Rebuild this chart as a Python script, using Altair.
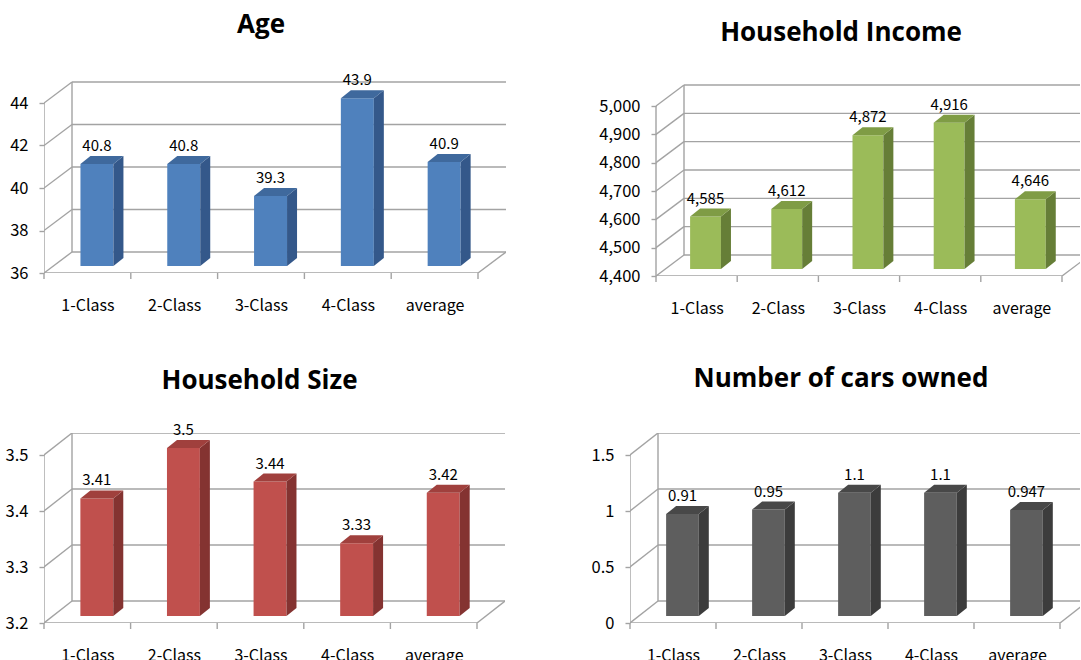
import json
import altair as alt
import pandas as pd

# ---------------- data ----------------
categories = ["1-Class", "2-Class", "3-Class", "4-Class", "average"]

age_values = [40.8, 40.8, 39.3, 43.9, 40.9]
income_values = [4585, 4612, 4872, 4916, 4646]
size_values = [3.41, 3.5, 3.44, 3.33, 3.42]
cars_values = [0.91, 0.95, 1.1, 1.1, 0.947]

age_ticks = [36, 38, 40, 42, 44]
income_ticks = [4400, 4500, 4600, 4700, 4800, 4900, 5000]
size_ticks = [3.2, 3.3, 3.4, 3.5]
cars_ticks = [0, 0.5, 1, 1.5]

FONT = "Noto Sans CJK KR"
TFONT = "Open Sans"
GRID = "#A3A3A3"

blue = ("#4F81BD", "#3F699D", "#34588A")
green = ("#9BBB59", "#7F9C45", "#667E37")
red = ("#C0504D", "#A0403D", "#843331")
gray = ("#5E5E5E", "#484848", "#3C3C3C")


def panel(title, values, ticks, colors, fmt, fw, fh, pw, ph, t_dx, t_off,
          bx=28, by=21, lead=0):
    n = len(categories)
    ymin, ymax = ticks[0], ticks[-1]
    band = fw / n
    xu = 1.0 / band                 # x units per pixel
    yu = (ymax - ymin) / fh         # y units per pixel
    x_start = -0.5 - lead * xu
    xs = alt.Scale(domain=[x_start, x_start + pw * xu], nice=False, zero=False)
    ys = alt.Scale(domain=[ymin, ymin + ph * yu], nice=False, zero=False)
    dxw, dyw = bx * xu, by * yu
    xr = n - 0.5

    xaxis = alt.Axis(
        values=list(range(n)), title=None, grid=False, domain=False,
        ticks=False, labelPadding=24, labelFontSize=16, labelFont=FONT,
        labelColor="#000",
        labelExpr=json.dumps(categories) + "[round(datum.value)]")
    yaxis = alt.Axis(
        values=ticks, format=fmt, title=None, grid=False, domain=False,
        tickColor=GRID, tickSize=5, tickWidth=1.4, labelPadding=11,
        labelFontSize=16.5, labelFont=FONT, labelColor="#000", offset=-lead)

    # frame / wall lines
    rows = []
    for t in ticks:
        rows.append(dict(xa=-0.5 + dxw, xb=xr + dxw + 2, ya=t + dyw, yb=t + dyw))
        rows.append(dict(xa=-0.5, xb=-0.5 + dxw, ya=t, yb=t + dyw))
    rows.append(dict(xa=-0.5 + dxw, xb=-0.5 + dxw, ya=ymin + dyw, yb=ymax + dyw))
    rows.append(dict(xa=-0.5, xb=-0.5, ya=ymin, yb=ymax))
    rows.append(dict(xa=-0.5, xb=xr, ya=ymin, yb=ymin))
    rows.append(dict(xa=xr, xb=xr + dxw, ya=ymin, yb=ymin + dyw))
    lines = pd.DataFrame(rows)

    lines_layer = alt.Chart(lines).mark_rule(
        color=GRID, strokeWidth=1.4, clip=True
    ).encode(
        x=alt.X("xa:Q", scale=xs, axis=xaxis),
        x2="xb:Q",
        y=alt.Y("ya:Q", scale=ys, axis=yaxis),
        y2="yb:Q",
    )

    # x tick marks at category boundaries
    bnd = pd.DataFrame({"b": [i - 0.5 for i in range(n + 1)]})
    xticks_layer = alt.Chart(bnd).mark_rule(color=GRID, strokeWidth=1.4).encode(
        x=alt.X("b:Q", scale=xs, axis=xaxis),
        y=alt.value(ph),
        y2=alt.value(ph + 6),
    )

    # bars
    lo, hi = -0.08, 0.30
    base_px, side_dx, side_dy = 7, 10, 8
    bars = pd.DataFrame({"c": categories, "i": list(range(n)), "v": values})
    bars["fl"] = bars["i"] + lo
    bars["fr"] = bars["i"] + hi
    bars["yb0"] = ymin + base_px * yu
    bars["yt"] = bars["v"] + base_px * yu
    bars["tx"] = bars["i"] + (lo + hi) / 2

    front = alt.Chart(bars).mark_bar(color=colors[0], strokeWidth=0).encode(
        x=alt.X("fl:Q", scale=xs, axis=xaxis),
        x2="fr:Q",
        y=alt.Y("yb0:Q", scale=ys, axis=yaxis),
        y2="yt:Q",
    )

    top_rows, side_rows = [], []
    for _, r in bars.iterrows():
        top_rows.append(dict(c=r.c, y=r.yt, xa=r.fl, xb=r.fr))
        top_rows.append(dict(c=r.c, y=r.yt + side_dy * yu,
                             xa=r.fl + side_dx * xu, xb=r.fr + side_dx * xu))
        side_rows.append(dict(c=r.c, x=r.fr, ya=r.yb0, yb=r.yt))
        side_rows.append(dict(c=r.c, x=r.fr + side_dx * xu,
                              ya=r.yb0 + side_dy * yu, yb=r.yt + side_dy * yu))
    top = alt.Chart(pd.DataFrame(top_rows)).mark_area(
        orient="horizontal", color=colors[1]
    ).encode(
        y=alt.Y("y:Q", scale=ys, axis=yaxis, stack=None),
        x=alt.X("xa:Q", scale=xs, axis=xaxis),
        x2="xb:Q",
        detail="c:N",
    )
    side = alt.Chart(pd.DataFrame(side_rows)).mark_area(
        orient="vertical", color=colors[2]
    ).encode(
        x=alt.X("x:Q", scale=xs, axis=xaxis),
        y=alt.Y("ya:Q", scale=ys, axis=yaxis, stack=None),
        y2="yb:Q",
        detail="c:N",
    )

    labels = alt.Chart(bars).mark_text(
        font=FONT, fontSize=15, color="#000", baseline="alphabetic", dy=-13
    ).encode(
        x=alt.X("tx:Q", scale=xs, axis=xaxis),
        y=alt.Y("yt:Q", scale=ys, axis=yaxis),
        text=alt.Text("v:Q", format=",~g"),
    )

    return alt.layer(lines_layer, xticks_layer, front, side, top, labels).properties(
        width=pw, height=ph,
        title=alt.TitleParams(
            text=title, font=TFONT, fontSize=26, fontWeight="bold", color="#000",
            anchor="middle", dx=t_dx, offset=t_off, baseline="alphabetic",
            frame="group"),
    )


age = panel("Age", age_values, age_ticks, blue, "d",
            fw=434, fh=170, pw=462, ph=192, t_dx=-14, t_off=14)
income = panel("Household Income", income_values, income_ticks, green, ",d",
               fw=406, fh=170, pw=450, ph=195, t_dx=-14, t_off=14, lead=26)
hsize = panel("Household Size", size_values, size_ticks, red, ".1f",
              fw=433, fh=168, pw=461, ph=190, t_dx=-15, t_off=8, by=22)
ncars = panel("Number of cars owned", cars_values, cars_ticks, gray, "~g",
              fw=430, fh=168, pw=450, ph=190, t_dx=-14, t_off=20, by=22)

chart = alt.concat(
    age, income, hsize, ncars, columns=2,
    spacing=alt.RowColnumber(row=157, column=124), bounds="flush",
).properties(
    padding={"left": 5, "top": 12, "right": 0, "bottom": 0},
    background="white",
).configure_view(stroke=None)

chart.save("out.html", embed_options={"renderer": "svg", "actions": False})
